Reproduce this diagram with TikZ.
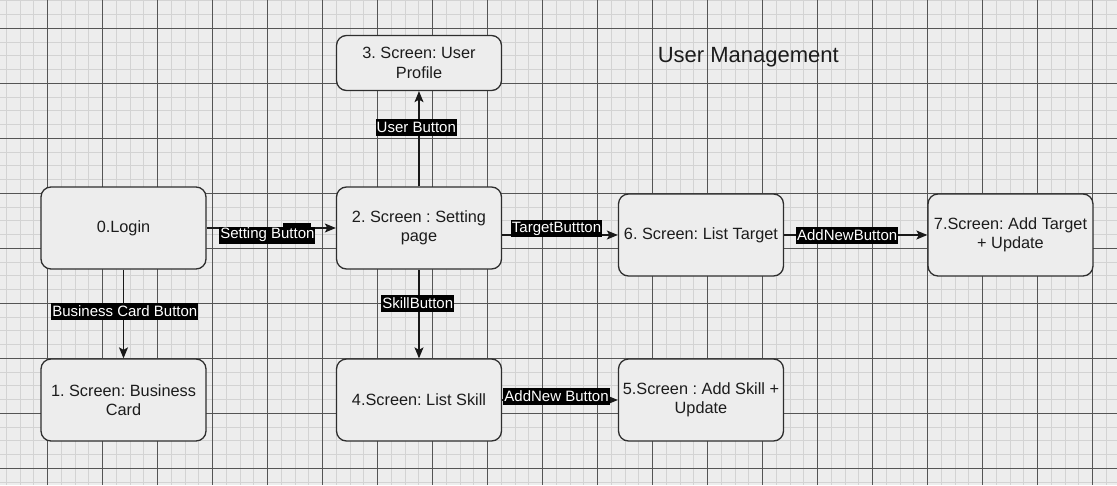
\documentclass[tikz,border=0pt]{standalone}
\usepackage{fontspec}
\setmainfont{Liberation Sans}
\usetikzlibrary{arrows.meta,calc}
\definecolor{bgc}{HTML}{EDEDED}
\definecolor{minorc}{HTML}{D3D3D3}
\definecolor{majorc}{HTML}{555555}
\definecolor{boxc}{HTML}{2E2E2E}
\definecolor{txtc}{HTML}{1C1C1C}
\tikzset{
  screen/.style={draw=boxc, line width=1.3pt, fill=bgc, rounded corners=10pt,
    minimum width=165pt, minimum height=82pt, align=center,
    inner sep=0pt, text=txtc, font=\fontsize{16.3}{19.3}\selectfont\frenchspacing},
  lbl/.style={fill=black, text=white, inner sep=1pt, outer sep=0pt,
    font=\fontsize{15}{17}\selectfont\frenchspacing, minimum height=17pt},
  arr/.style={draw=black!90, line width=1.3pt, -{Stealth[length=11pt,width=9pt,inset=2.5pt]}},
}
\begin{document}
\begin{tikzpicture}[x=1pt,y=-1pt]
\useasboundingbox (0,0) rectangle (1117,485);
\fill[bgc] (0,0) rectangle (1117,485);
% minor grid
\foreach \i in {-4,...,78} {
  \pgfmathsetmacro\xx{47.67+13.75*\i}
  \draw[minorc, line width=1pt] (\xx,0) -- (\xx,485);
}
\foreach \i in {-3,...,33} {
  \pgfmathsetmacro\yy{28.3+13.75*\i}
  \draw[minorc, line width=1pt] (0,\yy) -- (1117,\yy);
}
% major grid
\foreach \i in {-1,...,19} {
  \pgfmathsetmacro\xx{47.67+55*\i}
  \draw[majorc, line width=0.9pt] (\xx,0) -- (\xx,485);
}
\foreach \i in {-1,...,8} {
  \pgfmathsetmacro\yy{28.3+55*\i}
  \draw[majorc, line width=0.9pt] (0,\yy) -- (1117,\yy);
}

% title
\node[text=txtc, font=\fontsize{22}{26}\selectfont] (title) at (748.3,57.5) {User Management};

% screens
\node[screen] (s0) at (123.5,228) {0.Login};
\node[screen] (s1) at (123.5,400) {1. Screen: Business\\Card};
\node[screen] (s2) at (419,228) {2. Screen : Setting\\page};
\node[screen, minimum height=55pt] (s3) at (419,63) {3. Screen: User\\Profile};
\node[screen] (s4) at (419,400) {4.Screen: List Skill};
\node[screen] (s5) at (701,400) {5.Screen : Add Skill +\\Update};
\node[screen] (s6) at (701,235) {6. Screen: List Target};
\node[screen] (s7) at (1010.5,235) {7.Screen: Add Target\\+ Update};

% connectors
\draw[arr] (s0) -- (s2) node[lbl, pos=0.47, yshift=-7pt] (l02) {Setting Button};
\fill[black] ([xshift=16pt]l02.north) rectangle ([xshift=44pt,yshift=3.4pt]l02.north);
\draw[arr] (s0) -- (s1) node[lbl, pos=0.47, xshift=1.3pt] (l01) {Business Card Button};
\draw[arr] (s2) -- (s3) node[lbl, pos=0.62, xshift=-2.7pt] (l23) {User Button};
\draw[arr] (s2) -- (s4) node[lbl, pos=0.38, xshift=-1.3pt] (l24) {SkillButton};
\draw[arr] (s2.east |- s6.west) -- (s6.west) node[lbl, pos=0.47, yshift=6.5pt] (l26) {TargetButtton};
\draw[arr] (s4) -- (s5) node[lbl, pos=0.47, yshift=4pt] (l45) {AddNew Button};
\draw[arr] (s6) -- (s7) node[lbl, pos=0.44] (l67) {AddNewButton};
\end{tikzpicture}
\end{document}
